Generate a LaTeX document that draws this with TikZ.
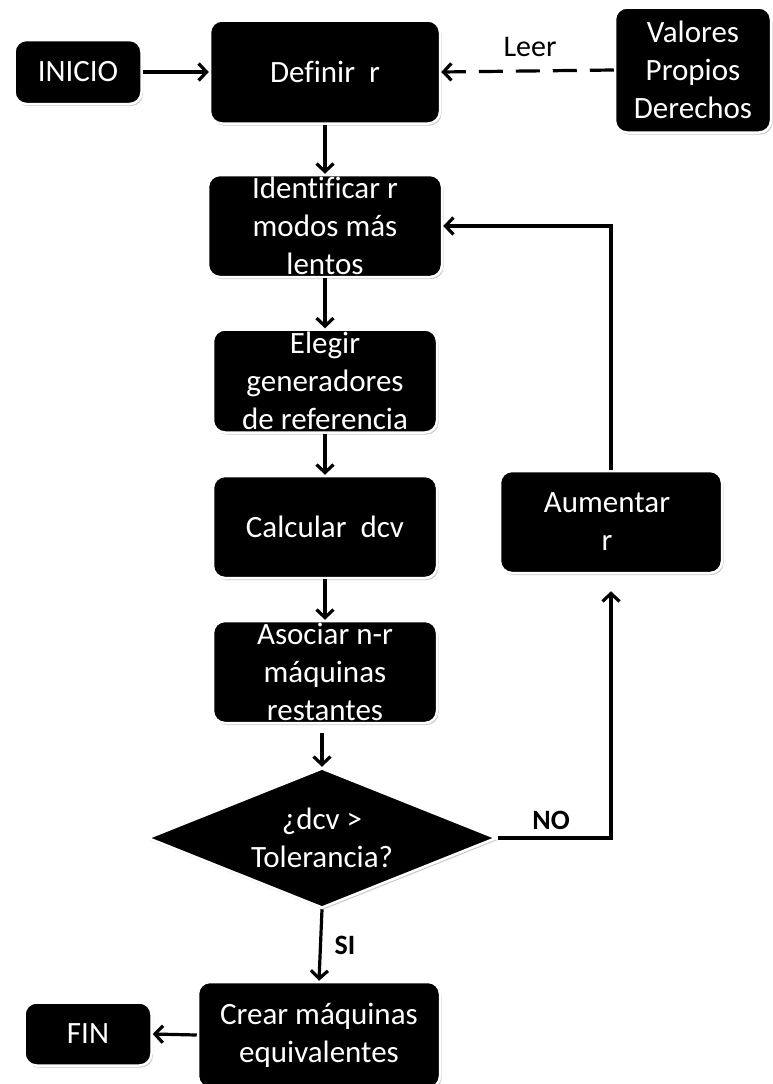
\documentclass[tikz,border=0pt]{standalone}
\usepackage{fontspec}
\setmainfont{Carlito}[Ligatures=NoCommon]
\usetikzlibrary{arrows.meta,shapes.geometric,shadows,calc}

\tikzset{
  blk/.style={rectangle, rounded corners=12pt, fill=black, draw=white,
    line width=2.5pt, inner sep=0pt,
    drop shadow={shadow xshift=1.5pt, shadow yshift=-2pt, opacity=0.35, fill=black!60}},
  dia/.style={diamond, fill=black, draw=white, line width=2.5pt, inner sep=0pt,
    drop shadow={shadow xshift=1.5pt, shadow yshift=-2pt, opacity=0.35, fill=black!60}},
  txt/.style={text=white, align=center, font=\fontsize{31}{38}\selectfont, inner sep=0pt},
  conn/.style={line width=3.2pt, -{Straight Barb[length=8pt,width=17pt,line width=3.2pt]}},
  lbl/.style={font=\fontsize{30}{36}\selectfont, inner sep=0pt},
  blbl/.style={font=\fontsize{28}{34}\selectfont\bfseries, inner sep=0pt}
}

\begin{document}
\begin{tikzpicture}[x=1pt,y=-1pt]
\useasboundingbox (0,0) rectangle (773,1084);

% process boxes
\node[blk, minimum width=127pt, minimum height=64pt]  (ini)  at (78,72)   {};
\node[blk, minimum width=230pt, minimum height=103pt] (def)  at (325,72)  {};
\node[blk, minimum width=156pt, minimum height=125pt] (val)  at (693,70)  {};
\node[blk, minimum width=234pt, minimum height=102pt] (idm)  at (325,226) {};
\node[blk, minimum width=224pt, minimum height=103pt] (ele)  at (325,381) {};
\node[blk, minimum width=224pt, minimum height=102pt] (cal)  at (325,527) {};
\node[blk, minimum width=224pt, minimum height=102pt] (aso)  at (325,672) {};
\node[blk, minimum width=222pt, minimum height=102pt] (aum)  at (611,522) {};
\node[dia, minimum width=349pt, minimum height=140pt] (dec)  at (322,838) {};
\node[blk, minimum width=242pt, minimum height=106pt] (cre)  at (319,1035) {};
\node[blk, minimum width=127pt, minimum height=63pt]  (fin)  at (88,1034) {};

% box texts
\node[txt] (iniT) at (ini) {INICIO};
\node[txt] (defT) at (def) {Definir\ \ r};
\node[txt] (valT) at (val) {Valores\\Propios\\Derechos};
\node[txt] (idmT) at (idm) {Identificar r\\modos más\\lentos};
\node[txt] (eleT) at (ele) {Elegir\\generadores\\de referencia};
\node[txt] (calT) at (cal) {Calcular\ \ dcv};
\node[txt] (asoT) at (aso) {Asociar n-r\\máquinas\\restantes};
\node[txt] (aumT) at ($(aum)+(-4,0)$) {Aumentar\\r};
\node[txt] (decT) at (dec) {¿dcv >\\Tolerancia?};
\node[txt] (creT) at (cre) {Crear máquinas\\equivalentes};
\node[txt] (finT) at (fin) {FIN};

% connectors
\draw[conn] (ini.east) -- (def.west);
\draw[conn, dash pattern=on 24pt off 13pt] (val.west) -- (def.east);
\node[lbl] (leer) at (530,47) {Leer};
\draw[conn] (def.south) -- (idm.north);
\draw[conn] (idm.south) -- (ele.north);
\draw[conn] (ele.south) -- (cal.north);
\draw[conn] (cal.south) -- (aso.north);
\draw[conn, shorten <=9pt] (aso.south -| dec.north) -- (dec.north);
\draw[conn] (dec.south) -- (cre.north);
\node[blbl] (si) at (345,945) {SI};
\coordinate (aumIn) at ($(aum.south)+(0,17)$);
\draw[conn] (dec.east) -| (aumIn);
\node[blbl] (no) at (551,820) {NO};
\draw[conn] (aum.north) |- (idm.east);
\draw[conn] (cre.west) -- (fin.east);
\end{tikzpicture}
\end{document}
